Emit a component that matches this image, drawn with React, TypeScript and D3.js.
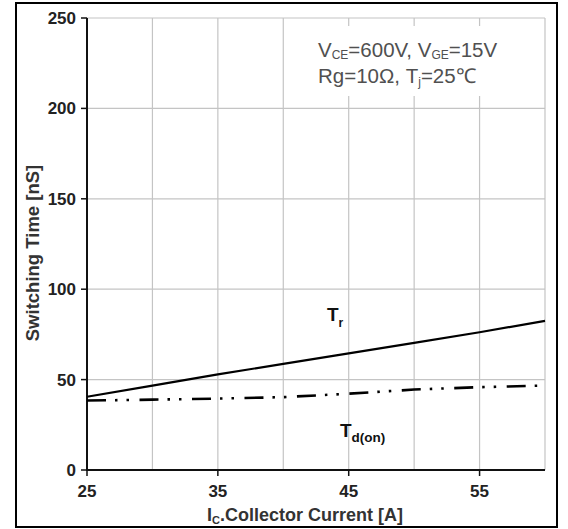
import React from "react";
import * as d3 from "d3";

const currents = [25, 30, 35, 40, 45, 50, 55, 60];
const trValues = [40.5, 46.7, 52.9, 58.7, 64.5, 70.3, 76.2, 82.5];
const tdonValues = [38.4, 38.9, 39.5, 40.3, 42.2, 44.5, 45.8, 46.7];
const xTickLabels = [25, 35, 45, 55];
const xGrid = [30, 35, 40, 45, 50, 55, 60];
const yTickLabels = [0, 50, 100, 150, 200, 250];

const W = 568;
const H = 529;
const M = { left: 87, top: 18, right: 545, bottom: 470 };
const FONT = "'Liberation Sans', Arial, sans-serif";

export default function App() {
  const x = d3.scaleLinear().domain([25, 60]).range([M.left, M.right]);
  const y = d3.scaleLinear().domain([0, 250]).range([M.bottom, M.top]);
  const line = d3
    .line<number>()
    .x((_, i) => x(currents[i]))
    .y((d) => y(d));

  return (
    <svg
      width={W}
      height={H}
      style={{ position: "absolute", left: 0, top: 0, background: "#fff" }}
      fontFamily={FONT}
    >
      <rect x={0} y={0} width={W} height={H} fill="#fff" />
      <rect x={16} y={3} width={541} height={524} fill="none" stroke="#000" strokeWidth={2} />
      {/* grid */}
      {yTickLabels.filter((v) => v > 0).map((v) => (
        <line key={"gy" + v} x1={M.left} x2={M.right} y1={y(v)} y2={y(v)} stroke="#c4c4c4" strokeWidth={1.2} />
      ))}
      {xGrid.map((v) => (
        <line key={"gx" + v} x1={x(v)} x2={x(v)} y1={M.top} y2={M.bottom} stroke="#c4c4c4" strokeWidth={1.2} />
      ))}
      {/* annotation box */}
      <rect x={302} y={26} width={218} height={70} fill="#fff" />
      <text x={318} y={57} fontSize={20.5} fill="#505050">
        <tspan>V</tspan>
        <tspan fontSize={12} dy={2}>CE</tspan>
        <tspan dy={-2}>=600V, V</tspan>
        <tspan fontSize={12} dy={2}>GE</tspan>
        <tspan dy={-2}>=15V</tspan>
      </text>
      <text x={318} y={83} fontSize={20.5} fill="#505050">
        <tspan>Rg=10Ω, T</tspan>
        <tspan fontSize={12} dy={3}>j</tspan>
        <tspan dy={-3}>=25℃</tspan>
      </text>
      {/* axes */}
      <line x1={M.left} x2={M.left} y1={M.top} y2={M.bottom + 1} stroke="#111" strokeWidth={2} />
      <line x1={M.left - 1} x2={M.right} y1={M.bottom} y2={M.bottom} stroke="#111" strokeWidth={2} />
      {yTickLabels.map((v) => (
        <g key={"yt" + v}>
          <line x1={M.left - 6} x2={M.left} y1={y(v)} y2={y(v)} stroke="#111" strokeWidth={1.5} />
          <text x={76} y={y(v) + 6} textAnchor="end" fontSize={17} fontWeight="bold" fill="#222">
            {v}
          </text>
        </g>
      ))}
      {xTickLabels.map((v) => (
        <g key={"xt" + v}>
          <line x1={x(v)} x2={x(v)} y1={M.bottom} y2={M.bottom + 6} stroke="#111" strokeWidth={1.5} />
          <text x={x(v)} y={497} textAnchor="middle" fontSize={17} fontWeight="bold" fill="#222">
            {v}
          </text>
        </g>
      ))}
      {/* lines */}
      <path d={line(trValues) || ""} fill="none" stroke="#000" strokeWidth={2.2} />
      <path
        d={line(tdonValues) || ""}
        fill="none"
        stroke="#000"
        strokeWidth={2.6}
        strokeDasharray="19 9 2.5 9 2.5 10.5"
      />
      {/* labels */}
      <text x={327} y={321} fontSize={19} fontWeight="bold" fill="#111">
        <tspan>T</tspan>
        <tspan fontSize={12} dy={6}>r</tspan>
      </text>
      <text x={340} y={437} fontSize={19} fontWeight="bold" fill="#111">
        <tspan>T</tspan>
        <tspan fontSize={13.5} dy={5}>d(on)</tspan>
      </text>
      {/* axis titles */}
      <text x={305} y={521} textAnchor="middle" fontSize={18} fontWeight="bold" fill="#333">
        <tspan>I</tspan>
        <tspan fontSize={11} dy={3}>C</tspan>
        <tspan dy={-3}>.Collector Current [A]</tspan>
      </text>
      <text
        transform={`translate(39, 253) rotate(-90)`}
        textAnchor="middle"
        fontSize={18.5}
        fontWeight="bold"
        fill="#333"
      >
        Switching Time [nS]
      </text>
    </svg>
  );
}
